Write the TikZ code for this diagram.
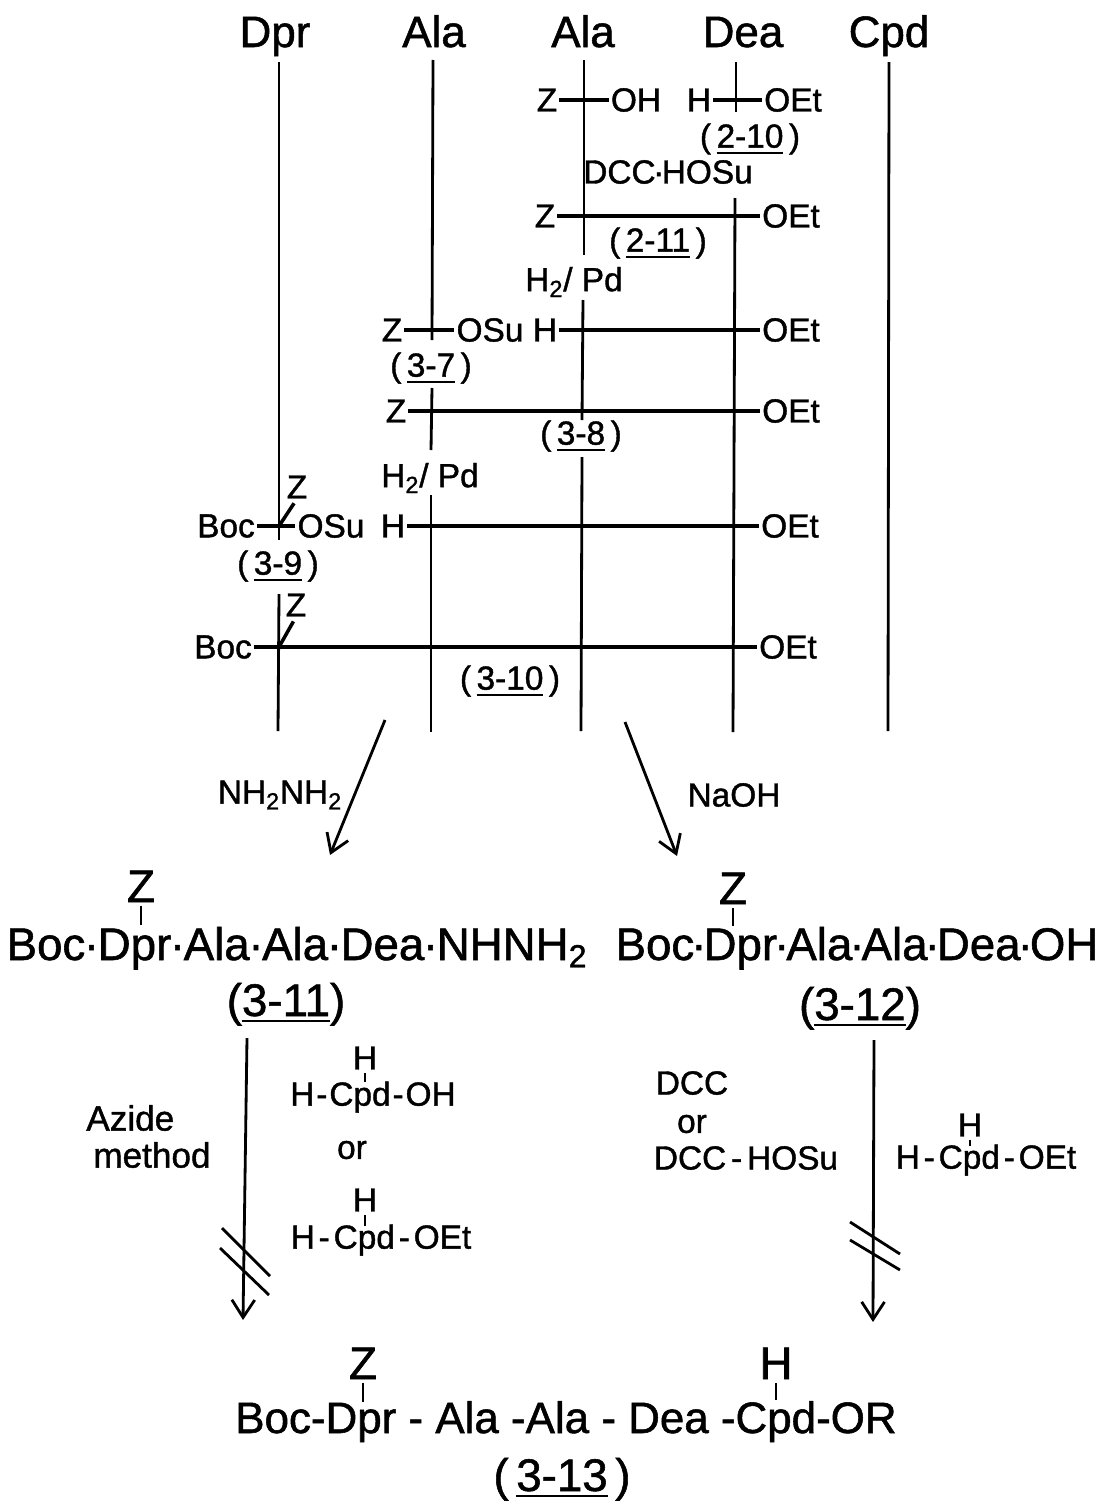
\documentclass[tikz,border=0pt]{standalone}
\usepackage{fontspec}
\setmainfont{Liberation Sans}[FakeBold=1.2]
\usetikzlibrary{positioning,arrows.meta}

\newsavebox{\ulbox}
\newcommand{\uline}[1]{\sbox{\ulbox}{#1}\rlap{\raisebox{-3.5pt}{\rule{\wd\ulbox}{1.3pt}}}\usebox{\ulbox}}
\newcommand{\pdot}[1]{\kern#1·\kern#1}
\newcommand{\hy}[1]{\kern#1-\kern#1}

\begin{document}
\begin{tikzpicture}[x=0.02cm,y=-0.02cm,
  head/.style={font=\fontsize{25}{25}\selectfont,inner sep=0pt,anchor=base},
  big/.style={font=\fontsize{26}{26}\selectfont,inner sep=0pt,anchor=base},
  lab/.style={font=\fontsize{19}{19}\selectfont,inner sep=0pt},
  strand/.style={line width=1.6pt},
  bar/.style={line width=2.3pt,shorten <=1pt,shorten >=1pt},
  slant/.style={line width=2pt,shorten >=3pt},
  tick/.style={line width=1.4pt,shorten <=2pt},
  rarrow/.style={-{Straight Barb[length=10pt,width=13pt,line width=1.6pt]},line width=1.6pt}]
  \useasboundingbox (0,0) rectangle (1106,1511);

  % column heads
  \node[head] (dpr) at (275,47) {Dpr};
  \node[head] (alaa) at (434,47) {Ala};
  \node[head] (alab) at (583,47) {Ala};
  \node[head] (dea) at (743,47) {Dea};
  \node[head] (cpd) at (889,47) {Cpd};

  % first row
  \node[lab] (z1) at (547,100) {Z};
  \node[lab] (oh1) at (636,100) {OH};
  \node[lab] (h1) at (699,100) {H};
  \node[lab] (oet1) at (793,100) {OEt};
  \node[lab] (c210) at (750,139) {(\,\uline{2-10}\,)};
  \node[lab] (dcc1) at (668,172) {DCC\pdot{-1.4pt}HOSu};
  \draw[bar] (z1.east) -- (oh1.west);
  \draw[bar] (h1.east) -- (oet1.west);

  % second row
  \node[lab] (z2) at (545,216) {Z};
  \node[lab] (oet2) at (791,216) {OEt};
  \node[lab] (c211) at (658,243) {(\,\uline{2-11}\,)};
  \node[lab] (pd1) at (574,282) {H\textsubscript{2}/ Pd};
  \draw[bar] (z2.east) -- (oet2.west);

  % third row
  \node[lab] (z3) at (392,330) {Z};
  \node[lab] (osu3) at (490,330) {OSu};
  \node[lab] (h3) at (545,330) {H};
  \node[lab] (oet3) at (791,330) {OEt};
  \node[lab] (c37) at (431,368) {(\,\uline{3-7}\,)};
  \draw[bar] (z3.east) -- (osu3.west);
  \draw[bar] (h3.east) -- (oet3.west);

  % fourth row
  \node[lab] (z4) at (396,411) {Z};
  \node[lab] (oet4) at (791,411) {OEt};
  \node[lab] (c38) at (581,436) {(\,\uline{3-8}\,)};
  \node[lab] (pd2) at (430,478) {H\textsubscript{2}/ Pd};
  \draw[bar] (z4.east) -- (oet4.west);

  % fifth row
  \node[lab] (zs5) at (297,487) {Z};
  \node[lab] (boc5) at (226,526) {Boc};
  \node[lab] (osu5) at (331,526) {OSu};
  \node[lab] (h5) at (393,526) {H};
  \node[lab] (oet5) at (790,526) {OEt};
  \node[lab] (c39) at (278,566) {(\,\uline{3-9}\,)};
  \draw[bar] (boc5.east) -- (osu5.west);
  \draw[bar] (h5.east) -- (oet5.west);

  % sixth row
  \node[lab] (zs6) at (296,605) {Z};
  \node[lab] (boc6) at (223,647) {Boc};
  \node[lab] (oet6) at (788,647) {OEt};
  \node[lab] (c310) at (510,681) {(\,\uline{3-10}\,)};
  \draw[bar] (boc6.east) -- (oet6.west);

  % strands
  \coordinate (dpr1) at (279,540);
  \coordinate (dpr2) at (279,594);
  \coordinate (dpr3) at (278,731);
  \coordinate (dprz5) at (279,526);
  \coordinate (dprz6) at (279,647);
  \draw[strand] (279,62) -- (dpr1);
  \draw[strand] (dpr2) -- (dpr3);
  \draw[slant] (dprz5) -- (zs5.south);
  \draw[slant] (dprz6) -- (zs6.south);
  \coordinate (aa1) at (433,60);
  \coordinate (aa2) at (432,340);
  \coordinate (aa3) at (432,388);
  \coordinate (aa4) at (431,450);
  \coordinate (aa5) at (431,495);
  \coordinate (aa6) at (431,732);
  \draw[strand] (aa1) -- (aa2);
  \draw[strand] (aa3) -- (aa4);
  \draw[strand] (aa5) -- (aa6);
  \coordinate (ab1) at (584,60);
  \coordinate (ab2) at (584,255);
  \coordinate (ab3) at (583,300);
  \coordinate (ab4) at (582,420);
  \coordinate (ab5) at (582,457);
  \coordinate (ab6) at (581,731);
  \draw[strand] (ab1) -- (ab2);
  \draw[strand] (ab3) -- (ab4);
  \draw[strand] (ab5) -- (ab6);
  \coordinate (de1) at (736,62);
  \coordinate (de2) at (736,112);
  \coordinate (de3) at (735,198);
  \coordinate (de4) at (733,732);
  \draw[strand] (de1) -- (de2);
  \draw[strand] (de3) -- (de4);
  \coordinate (cp1) at (889,62);
  \coordinate (cp2) at (888,731);
  \draw[strand] (cp1) -- (cp2);

  % branch to the two products
  \coordinate (arra) at (385,720);
  \coordinate (arrb) at (330,855);
  \coordinate (arrc) at (625,722);
  \coordinate (arrd) at (677,856);
  \draw[rarrow] (arra) -- (arrb);
  \draw[rarrow] (arrc) -- (arrd);
  \node[lab] (hyd) at (280,795) {NH\textsubscript{2}NH\textsubscript{2}};
  \node[lab] (naoh) at (734,795) {NaOH};

  % products
  \node[big] (zc11) at (141,902) {Z};
  \node[big] (p311) at (297,960) {Boc\pdot{-.8pt}Dpr\pdot{-.8pt}Ala\pdot{-.8pt}Ala\pdot{-.8pt}Dea\pdot{-.8pt}NHNH\textsubscript{2}};
  \node[big] (c311) at (286,1016) {(\uline{3-11})};
  \coordinate (t11) at (141,925);
  \draw[tick] (zc11.south) -- (t11);
  \node[big] (zc12) at (733,904) {Z};
  \node[big] (p312) at (857,960) {Boc\pdot{-1.7pt}Dpr\pdot{-1.7pt}Ala\pdot{-1.7pt}Ala\pdot{-1.7pt}Dea\pdot{-1.7pt}OH};
  \node[big] (c312) at (860,1020) {(\uline{3-12})};
  \coordinate (t12) at (733,926);
  \draw[tick] (zc12.south) -- (t12);

  % left reagents
  \node[lab,anchor=west,font=\fontsize{20}{20}\selectfont] (azi) at (86,1118) {Azide};
  \node[lab,anchor=west,font=\fontsize{20}{20}\selectfont] (meth) at (93,1155) {method};
  \node[lab] (ha) at (365,1058) {H};
  \node[lab] (cpda) at (373,1097) {H\hy{1.1pt}Cpd\hy{1.1pt}OH};
  \node[lab] (ora) at (352,1150) {or};
  \node[lab] (hb) at (365,1200) {H};
  \node[lab] (cpdb) at (381,1240) {H\hy{2.2pt}Cpd\hy{2.2pt}OEt};
  \coordinate (ta) at (365,1082);
  \coordinate (tb) at (365,1226);
  \draw[tick] (ha.south) -- (ta);
  \draw[tick] (hb.south) -- (tb);

  % right reagents
  \node[lab] (dcc2) at (692,1083) {DCC};
  \node[lab] (orb) at (692,1124) {or};
  \node[lab] (dcc3) at (746,1158) {DCC\hy{2.8pt}HOSu};
  \node[lab] (hc) at (970,1125) {H};
  \node[lab] (cpdc) at (986,1160) {H\hy{2.2pt}Cpd\hy{2.2pt}OEt};
  \coordinate (tc) at (970,1146);
  \draw[tick] (hc.south) -- (tc);

  % blocked arrows
  \coordinate (dna) at (247,1038);
  \coordinate (dnb) at (243,1320);
  \coordinate (dnc) at (874,1040);
  \coordinate (dnd) at (873,1322);
  \draw[rarrow] (dna) -- (dnb);
  \draw[rarrow] (dnc) -- (dnd);
  \coordinate (sa1) at (222,1228);
  \coordinate (sa2) at (270,1276);
  \coordinate (sa3) at (220,1248);
  \coordinate (sa4) at (269,1295);
  \draw[strand] (sa1) -- (sa2);
  \draw[strand] (sa3) -- (sa4);
  \coordinate (sb1) at (850,1222);
  \coordinate (sb2) at (900,1254);
  \coordinate (sb3) at (850,1240);
  \coordinate (sb4) at (900,1270);
  \draw[strand] (sb1) -- (sb2);
  \draw[strand] (sb3) -- (sb4);

  % final compound
  \node[big] (zf) at (363,1379) {Z};
  \node[big] (hf) at (776,1379) {H};
  \node[big,font=\fontsize{25}{25}\selectfont] (pf) at (566,1433) {Boc-Dpr - Ala -Ala - Dea -Cpd-OR};
  \node[big] (c313) at (562,1491) {(\,\uline{3-13}\,)};
  \coordinate (tz) at (363,1402);
  \coordinate (th) at (776,1400);
  \draw[tick] (zf.south) -- (tz);
  \draw[tick] (hf.south) -- (th);
\end{tikzpicture}
\end{document}
